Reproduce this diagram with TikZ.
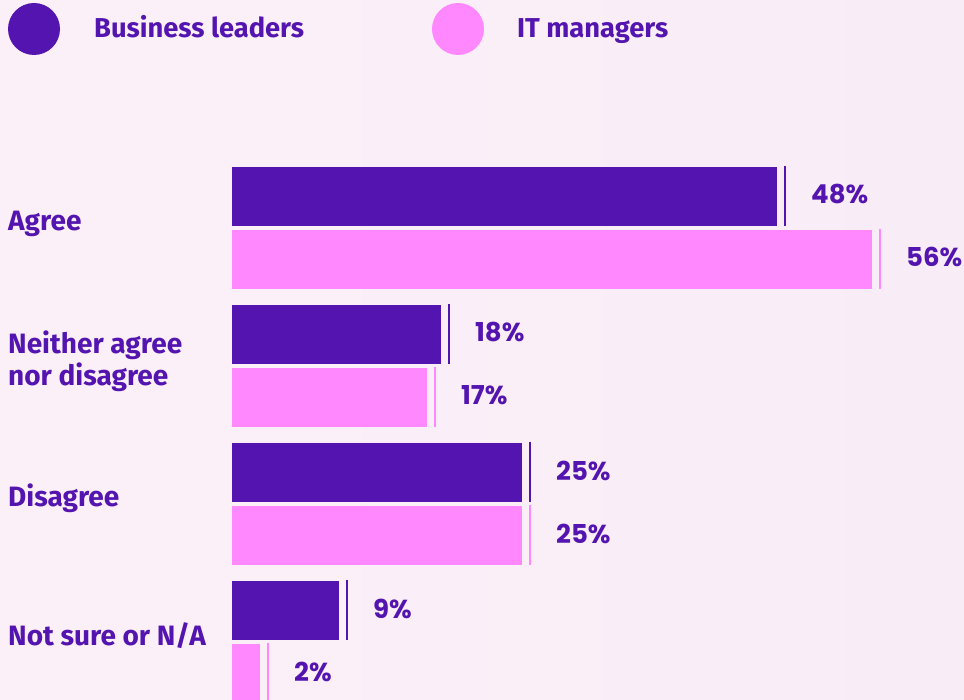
\documentclass[tikz,border=0pt]{standalone}
\usepackage{fontspec}
\setmainfont{Fira Sans}
\newfontfamily\numfont{Poppins}
\definecolor{bizpurple}{RGB}{83,20,176}
\definecolor{itpink}{RGB}{255,136,255}
\definecolor{bgleft}{RGB}{252,240,248}
\definecolor{bgright}{RGB}{248,237,247}
\tikzset{
  cattext/.style={anchor=base west,inner sep=0pt,text=bizpurple,font=\fontsize{28}{32}\selectfont\bfseries,align=left},
  pcttext/.style={anchor=base west,inner sep=0pt,text=bizpurple,font=\numfont\fontsize{26}{30}\selectfont\bfseries},
  legdot/.style={circle,inner sep=0pt,minimum size=52pt}
}
\newcommand{\mkbar}[5]{% #1: name, #2: top y, #3: end x, #4: colour, #5: label
  \fill[#4] (232,#2) rectangle (#3,#2+59);
  \draw[#4,line width=2pt] (#3+8,#2-1) -- (#3+8,#2+59);
  \node[pcttext] (#1) at (#3+34,#2+37) {#5};
}

\begin{document}
\begin{tikzpicture}[x=1pt,y=-1pt]
  % Background
  \useasboundingbox (0,0) rectangle (964,700);
  \shade[left color=bgleft,right color=bgright] (0,0) rectangle (964,700);

  % Legend
  \node[legdot,fill=bizpurple] (bizdot) at (34,29) {};
  \node[cattext,font=\fontsize{27.3}{30}\selectfont\bfseries] (biztext) at (94,38) {Business leaders};
  \node[legdot,fill=itpink] (itdot) at (458,29) {};
  \node[cattext,font=\fontsize{27.3}{30}\selectfont\bfseries] (ittext) at (517,38) {IT managers};

  % Category labels
  \node[cattext] (agree) at (8,231) {Agree};
  \node[cattext] (neither) at (8,386) {Neither agree\\nor disagree};
  \node[cattext] (disagree) at (8,506) {Disagree};
  \node[cattext] (notsure) at (8,645) {Not sure or N/A};

  % Business leaders bars
  \mkbar{bizagree}{167}{777}{bizpurple}{48\%}
  \mkbar{bizneither}{305}{441}{bizpurple}{18\%}
  \mkbar{bizdisagree}{443}{522}{bizpurple}{25\%}
  \mkbar{biznotsure}{581}{339}{bizpurple}{9\%}

  % IT managers bars
  \mkbar{itagree}{230}{872}{itpink}{56\%}
  \mkbar{itneither}{368}{427}{itpink}{17\%}
  \mkbar{itdisagree}{506}{522}{itpink}{25\%}
  \mkbar{itnotsure}{644}{260}{itpink}{2\%}
\end{tikzpicture}
\end{document}
